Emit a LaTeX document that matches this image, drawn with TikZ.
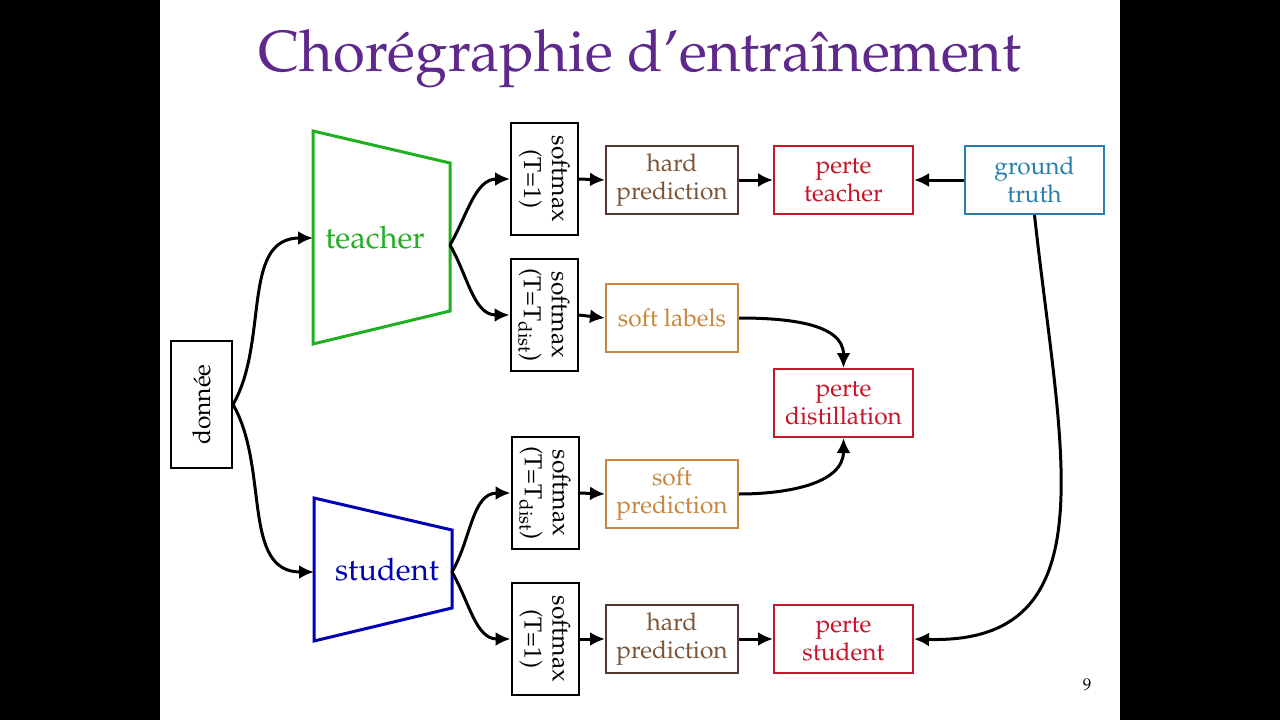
\documentclass[tikz,border=0pt]{standalone}
\usepackage[T1]{fontenc}
\usepackage{mathpazo}
\usetikzlibrary{arrows.meta}
\definecolor{titlepurple}{RGB}{94,40,140}
\definecolor{tgreen}{RGB}{34,175,34}
\definecolor{sblue}{RGB}{0,0,180}
\definecolor{hpborder}{RGB}{85,55,50}
\definecolor{hptext}{RGB}{125,85,55}
\definecolor{lossred}{RGB}{200,20,40}
\definecolor{gtblue}{RGB}{40,125,170}
\definecolor{softorange}{RGB}{200,135,60}
\tikzset{
  px/.style={x=1pt,y=-1pt},
  basebox/.style={draw,line width=2pt,align=center,inner sep=0pt,font=\fontsize{24.5}{28}\selectfont},
  smbox/.style={basebox,draw=black,rotate=-90,minimum width=112pt,minimum height=67pt},
  wide/.style={basebox,minimum width=132pt,minimum height=68pt},
  wider/.style={basebox,minimum width=139pt,minimum height=68pt},
  hardbox/.style={wide,draw=hpborder,text=hptext},
  softbox/.style={wide,draw=softorange,text=softorange},
  lossbox/.style={wider,draw=lossred,text=lossred},
  gtbox/.style={wider,draw=gtblue,text=gtblue},
  conn/.style={line width=3pt,-{Latex[length=15pt,width=14pt]}},
}
\begin{document}
\begin{tikzpicture}[px]
\useasboundingbox (0,0) rectangle (1280,720);
\fill[black] (0,0) rectangle (160,720);
\fill[black] (1120,0) rectangle (1280,720);
\fill[white] (160,0) rectangle (1120,720);

\node[text=titlepurple,font=\fontsize{58}{64}\selectfont] (title) at (640,59) {Chorégraphie d'entraînement};

% donnee
\node[basebox,draw=black,rotate=90,minimum width=127pt,minimum height=61pt] (donnee) at (201.5,404.5) {donnée};

% teacher trapezoid
\draw[tgreen,line width=3pt,line join=miter] (313,131) -- (450,163) -- (450,311) -- (313,344) -- cycle;
\node[text=tgreen,font=\fontsize{31}{34}\selectfont] (teacher) at (375,238) {teacher};
\coordinate (tW) at (313,238);
\coordinate (tE) at (450,245);

% student trapezoid
\draw[sblue,line width=3pt,line join=miter] (314,498) -- (452,530) -- (452,608) -- (314,641) -- cycle;
\node[text=sblue,font=\fontsize{31}{34}\selectfont] (student) at (387,570) {student};
\coordinate (sW) at (314,572);
\coordinate (sE) at (452,572);

% softmax boxes
\node[smbox] (s1) at (544.5,179) {softmax\\(T=1)};
\node[smbox] (s2) at (544,315) {softmax\\(T=T$_\mathrm{dist}$)};
\node[smbox] (s3) at (545,493) {softmax\\(T=T$_\mathrm{dist}$)};
\node[smbox] (s4) at (545,639) {softmax\\(T=1)};

% right side boxes
\node[hardbox] (hp1) at (672,180) {hard\\prediction};
\node[lossbox] (pt) at (843.5,180) {perte\\teacher};
\node[gtbox] (gt) at (1034.5,180) {ground\\truth};
\node[softbox] (sl) at (672,318) {soft labels};
\node[lossbox] (pd) at (843.5,403) {perte\\distillation};
\node[softbox] (sp) at (672,494) {soft\\prediction};
\node[hardbox] (hp2) at (672,639) {hard\\prediction};
\node[lossbox] (ps) at (843.5,639) {perte\\student};

\node[font=\fontsize{17}{20}\selectfont] (pagenum) at (1087,685) {9};

% connectors
\draw[conn] (donnee.south) to[out=60,in=180] (tW);
\draw[conn] (donnee.south) to[out=-60,in=180] (sW);
\draw[conn] (tE) to[out=60,in=180] (s1.south);
\draw[conn] (tE) to[out=-60,in=180] (s2.south);
\draw[conn] (sE) to[out=60,in=180] (s3.south);
\draw[conn] (sE) to[out=-60,in=180] (s4.south);
\draw[conn] (s1.north) -- (hp1.west);
\draw[conn] (s2.north) -- (sl.west);
\draw[conn] (s3.north) -- (sp.west);
\draw[conn] (s4.north) -- (hp2.west);
\draw[conn] (hp1.east) -- (pt.west);
\draw[conn] (hp2.east) -- (ps.west);
\draw[conn] (gt.west) -- (pt.east);
\draw[conn] (sl.east) to[out=0,in=90] (pd.north);
\draw[conn] (sp.east) to[out=0,in=-90] (pd.south);
\draw[conn] (gt.south) .. controls (1060,450) and (1112,645) .. (ps.east);
\end{tikzpicture}
\end{document}
